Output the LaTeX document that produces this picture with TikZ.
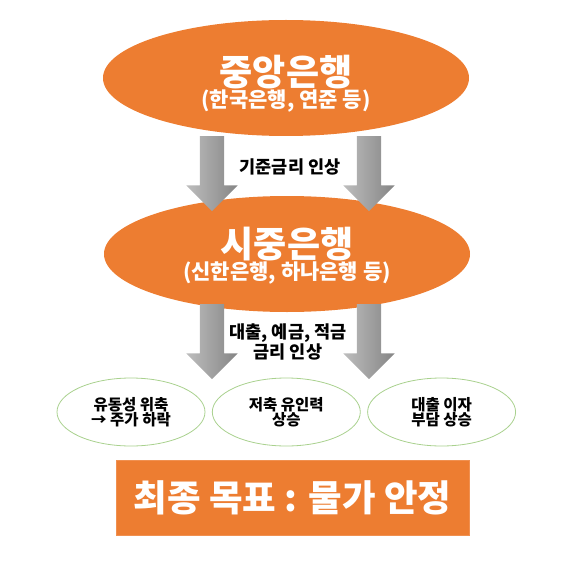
\documentclass[tikz,border=0pt]{standalone}
\usepackage{fontspec}
\setmainfont{Noto Sans CJK KR}[BoldFont={Noto Sans CJK KR Black}]
\usepackage{xcolor}
\usetikzlibrary{shapes, arrows, positioning}
\definecolor{bankorange}{HTML}{ED7D31}
\definecolor{leafgreen}{HTML}{A9D18E}
\definecolor{arrowlight}{HTML}{BDBDBD}
\definecolor{arrowdark}{HTML}{858585}
\newcommand{\bigline}{\fontsize{36}{26}\selectfont}
\newcommand{\subline}{\fontsize{21}{26}\selectfont}
\newcommand{\capline}{\fontsize{17.5}{19}\selectfont}
\newcommand{\effline}{\fontsize{15.5}{17.5}\selectfont}

\begin{document}
\begin{tikzpicture}[x=1pt, y=-1pt]

\tikzstyle{bank} = [ellipse, fill=bankorange, inner sep=0pt, minimum width=366pt, minimum height=116pt]
\tikzstyle{banktext} = [text=white, font=\bfseries, align=center, inner sep=0pt]
\tikzstyle{effect} = [ellipse, draw=leafgreen, line width=0.8pt, fill=white, font=\bfseries, align=center, inner sep=0pt, minimum width=148pt, minimum height=68pt]
\tikzstyle{goal} = [rectangle, fill=bankorange, draw=bankorange!85!white, text=white, font=\bfseries, inner sep=0pt, minimum width=353pt, minimum height=75pt]
\tikzstyle{flow} = [single arrow, rotate=-90, left color=arrowlight, right color=arrowdark, inner xsep=0pt, inner ysep=12pt, minimum height=75pt, single arrow head extend=13.5pt, single arrow tip angle=90]
\tikzstyle{caption} = [font=\bfseries, align=center, inner sep=0pt]

\useasboundingbox (0,0) rectangle (572,564);

% Make nodes
\node (central) [bank] at (286, 78) {};
\node (commercial) [bank] at (287, 254) {};
\node (centraltext) [banktext] at (286, 84) {\bigline 중앙은행\\\subline (한국은행, 연준 등)};
\node (commercialtext) [banktext] at (287, 256) {\bigline 시중은행\\\subline (신한은행, 하나은행 등)};

% Block arrows
\node (a1) [flow] at (212, 167.5) {};
\node (a2) [flow] at (369, 167.5) {};
\node (a3) [flow] at (212, 335.5) {};
\node (a4) [flow] at (369, 335.5) {};

% Arrow captions
\node (rate) [caption] at (290, 167) {\capline 기준금리 인상};
\node (loan) [caption] at (288, 342) {\capline 대출, 예금, 적금\\\capline 금리 인상};

% Effects
\node (liquid) [effect] at (131, 412) {\effline 유동성 위축\\\effline → 주가 하락};
\node (saving) [effect, right=6.5pt of liquid] {\effline 저축 유인력\\\effline 상승};
\node (burden) [effect, right=6.5pt of saving] {\effline 대출 이자\\\effline 부담 상승};

% Final goal
\node (target) [goal] at (292.5, 497.5) {\fontsize{36.5}{40}\selectfont 최종 목표 : 물가 안정};

\end{tikzpicture}
\end{document}
